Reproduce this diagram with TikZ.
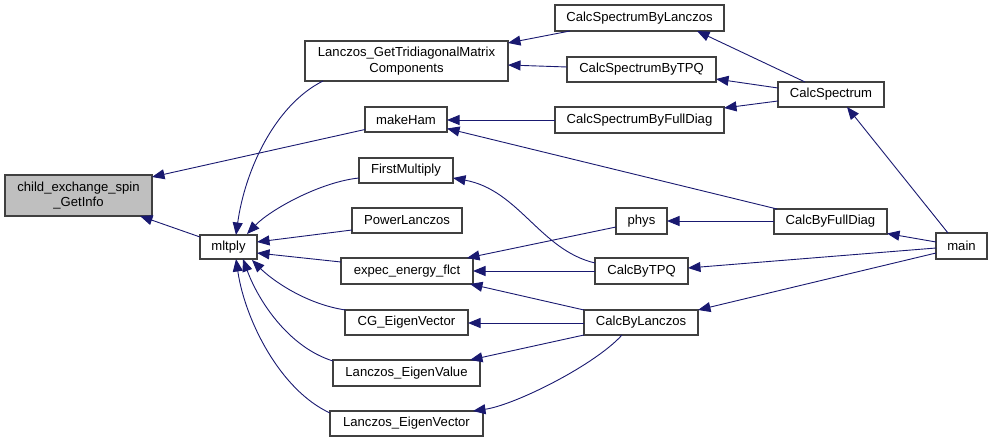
\documentclass[tikz,border=0pt]{standalone}
\usepackage{fontspec}
\setmainfont{Liberation Sans}
\usetikzlibrary{arrows.meta,calc}
\definecolor{edgeblue}{HTML}{191970}
\definecolor{nodegray}{HTML}{BFBFBF}
\definecolor{bordergray}{HTML}{404040}
\begin{document}
\begin{tikzpicture}[x=1pt,y=-1pt,
  fn/.style={draw=bordergray,line width=1.2pt,fill=white,inner sep=0pt,align=center,
    font=\fontsize{13.1}{15.5}\selectfont},
  call/.style={draw=edgeblue,line width=0.9pt,-{Triangle[length=12.5pt,width=10pt]}}]
\useasboundingbox (0,0) rectangle (992,443);

% nodes
\node[fn,fill=nodegray,minimum width=147pt,minimum height=41pt] (child) at (78.5,195.5) {child\_exchange\_spin\\\_GetInfo};
\node[fn,minimum width=57pt,minimum height=24pt] (mltply) at (228.5,247) {mltply};
\node[fn,minimum width=203pt,minimum height=40pt] (lgtmc) at (406.5,61) {Lanczos\_GetTridiagonalMatrix\\Components};
\node[fn,minimum width=82pt,minimum height=25pt] (makeham) at (406,119.5) {makeHam};
\node[fn,minimum width=94pt,minimum height=25pt] (firstmult) at (406,170.5) {FirstMultiply};
\node[fn,minimum width=110pt,minimum height=25pt] (powerl) at (407,220.5) {PowerLanczos};
\node[fn,minimum width=132pt,minimum height=26pt] (expec) at (407,271) {expec\_energy\_flct};
\node[fn,minimum width=123pt,minimum height=25pt] (cgev) at (406.5,322.5) {CG\_EigenVector};
\node[fn,minimum width=147pt,minimum height=26pt] (lev) at (406.5,373) {Lanczos\_EigenValue};
\node[fn,minimum width=153pt,minimum height=25pt] (levec) at (406.5,423.5) {Lanczos\_EigenVector};
\node[fn,minimum width=169pt,minimum height=26pt] (csbl) at (639.5,18) {CalcSpectrumByLanczos};
\node[fn,minimum width=149pt,minimum height=25pt] (csbtpq) at (641.5,69.5) {CalcSpectrumByTPQ};
\node[fn,minimum width=169pt,minimum height=26pt] (csbfd) at (639.5,120) {CalcSpectrumByFullDiag};
\node[fn,minimum width=106pt,minimum height=25pt] (cspec) at (831,94.5) {CalcSpectrum};
\node[fn,minimum width=113pt,minimum height=25pt] (cbfd) at (830.5,221.5) {CalcByFullDiag};
\node[fn,minimum width=51pt,minimum height=26pt] (main) at (961.5,246) {main};
\node[fn,minimum width=51pt,minimum height=26pt] (phys) at (641.5,221) {phys};
\node[fn,minimum width=93pt,minimum height=26pt] (cbtpq) at (641.5,271) {CalcByTPQ};
\node[fn,minimum width=114pt,minimum height=25pt] (cbl) at (641,322.5) {CalcByLanczos};

% edges
\draw[call] ([shift={(-41,10)}]makeham.center) -- ([shift={(73.5,-18.5)}]child.center);
\draw[call] ([shift={(-28.5,-10)}]mltply.center) -- ([shift={(61.5,20.5)}]child.center);
\draw[call] ([shift={(-83.5,20)}]lgtmc.center) .. controls +(-48,24) and +(9,-65) .. ([shift={(7.5,-12)}]mltply.center);
\draw[call] ([shift={(-47,7.5)}]firstmult.center) .. controls +(-39,4) and +(23,-24) .. ([shift={(18.5,-13)}]mltply.center);
\draw[call] ([shift={(-55,9.5)}]powerl.center) -- ([shift={(28.5,-5)}]mltply.center);
\draw[call] ([shift={(-66,-9)}]expec.center) -- ([shift={(28.5,6)}]mltply.center);
\draw[call] ([shift={(-61,-12.5)}]cgev.center) .. controls +(-40,-6) and +(20,20) .. ([shift={(23.5,13)}]mltply.center);
\draw[call] ([shift={(-73.5,-12)}]lev.center) .. controls +(-45,-14) and +(15,41) .. ([shift={(14.5,12)}]mltply.center);
\draw[call] ([shift={(-76.5,-10.5)}]levec.center) .. controls +(-50,-23) and +(9,61) .. ([shift={(7.5,12)}]mltply.center);
\draw[call] ([shift={(-69.5,13)}]csbl.center) -- ([shift={(101.5,-18)}]lgtmc.center);
\draw[call] ([shift={(-74.5,-2.5)}]csbtpq.center) -- ([shift={(101.5,4)}]lgtmc.center);
\draw[call] ([shift={(-84.5,0)}]csbfd.center) -- ([shift={(41,0.5)}]makeham.center);
\draw[call] ([shift={(-53.5,-12.5)}]cbfd.center) -- ([shift={(41,9)}]makeham.center);
\draw[call] ([shift={(-46.5,-8)}]cbtpq.center) .. controls +(-55,-13) and +(66,12) .. ([shift={(47,7.5)}]firstmult.center);
\draw[call] ([shift={(-25.5,6)}]phys.center) -- ([shift={(60,-13)}]expec.center);
\draw[call] ([shift={(-46.5,0)}]cbtpq.center) -- ([shift={(66,0)}]expec.center);
\draw[call] ([shift={(-57,-12.5)}]cbl.center) -- ([shift={(63,13)}]expec.center);
\draw[call] ([shift={(-57,0.5)}]cbl.center) -- ([shift={(61.5,0.5)}]cgev.center);
\draw[call] ([shift={(-57,12.5)}]cbl.center) -- ([shift={(63.5,-13)}]lev.center);
\draw[call] ([shift={(-19,12.5)}]cbl.center) .. controls +(-27,30) and +(42,-6) .. ([shift={(66.5,-12.5)}]levec.center);
\draw[call] ([shift={(-26,-12.5)}]cspec.center) -- ([shift={(57.5,13)}]csbl.center);
\draw[call] ([shift={(-53,-6.5)}]cspec.center) -- ([shift={(74.5,9.5)}]csbtpq.center);
\draw[call] ([shift={(-53,6.5)}]cspec.center) -- ([shift={(84.5,-12)}]csbfd.center);
\draw[call] ([shift={(-13.5,-13)}]main.center) -- ([shift={(16,12.5)}]cspec.center);
\draw[call] ([shift={(-25.5,-4)}]main.center) -- ([shift={(56.5,12)}]cbfd.center);
\draw[call] ([shift={(-25.5,2)}]main.center) -- ([shift={(46.5,-3)}]cbtpq.center);
\draw[call] ([shift={(-25.5,7)}]main.center) -- ([shift={(57,-12.5)}]cbl.center);
\draw[call] ([shift={(-56.5,-0.5)}]cbfd.center) -- ([shift={(25.5,0)}]phys.center);
\end{tikzpicture}
\end{document}
